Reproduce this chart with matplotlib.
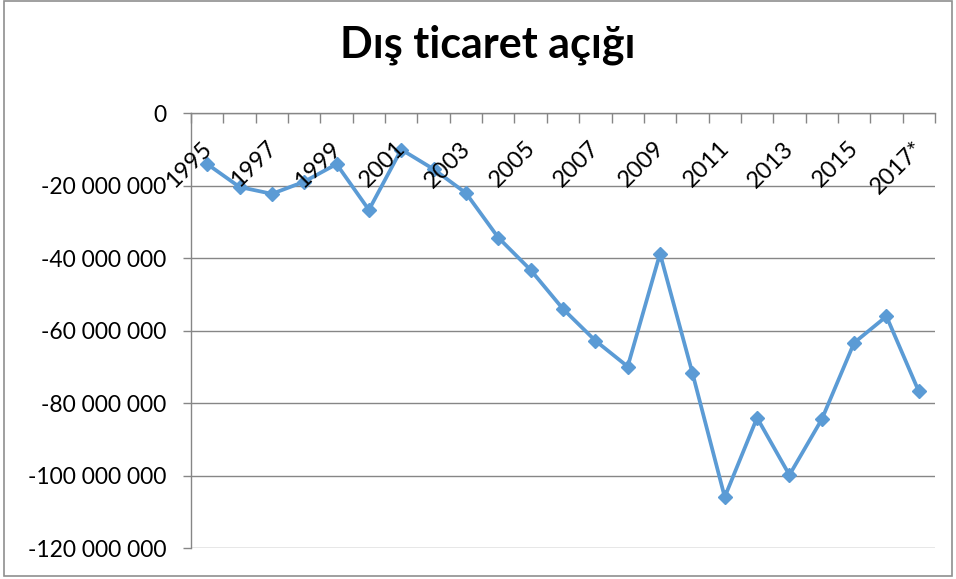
import numpy as np
import matplotlib
matplotlib.use("Agg")
import matplotlib.pyplot as plt
from matplotlib import transforms
from matplotlib.patches import Rectangle
from matplotlib.ticker import FuncFormatter

# trade deficit, 1995 - 2017*
years = ['1995', '1996', '1997', '1998', '1999', '2000', '2001', '2002',
         '2003', '2004', '2005', '2006', '2007', '2008', '2009', '2010',
         '2011', '2012', '2013', '2014', '2015', '2016', '2017*']
deficit = [-14071624, -20402178, -22297649, -18947347, -14084009, -26727914,
           -10064867, -15494708, -22086856, -34372613, -43297743, -54041498,
           -62790965, -69936378, -38785809, -71661113, -105934807, -84066659,
           -99858613, -84508877, -63394728, -56086523, -76795556]
y_ticks = [0, -20000000, -40000000, -60000000, -80000000, -100000000, -120000000]

plt.rcParams['font.family'] = ['Lato', 'DejaVu Sans']
grey = '#868686'
blue = '#5B9BD5'

fig = plt.figure(figsize=(9.56, 5.79), dpi=100)
fig.patches.append(Rectangle((0.004, 0.005), 0.992, 0.993, transform=fig.transFigure,
                             fill=False, edgecolor='#8f8f8f', lw=1.2))

ax = fig.add_axes([0.1998, 0.0535, 0.7782, 0.7513])
x = np.arange(len(years))
ax.plot(x, deficit, color=blue, lw=2.7, marker='D', ms=7.5, zorder=3)

ax.set_xlim(-0.5, len(years) - 0.5)
ax.set_ylim(-120000000, 0)
ax.set_yticks(y_ticks)
ax.yaxis.set_major_formatter(FuncFormatter(lambda v, p: f"{int(v):,}".replace(',', ' ')))
ax.yaxis.grid(True, color=grey, lw=1)
ax.set_axisbelow(True)
ax.tick_params(axis='y', length=6, width=1, color=grey, pad=12, labelsize=16.5, labelcolor='black')

for s in ('right', 'bottom'):
    ax.spines[s].set_visible(False)
for s in ('top', 'left'):
    ax.spines[s].set_color(grey)
    ax.spines[s].set_linewidth(1)

# category boundary ticks on the zero line
ax.xaxis.tick_top()
ax.set_xticks(np.arange(-0.5, len(years), 1))
ax.tick_params(axis='x', direction='in', length=7, width=1, color=grey, labeltop=False)

lab_tr = transforms.offset_copy(ax.transData, fig=fig, x=1, y=-32, units='dots')
for i in range(0, len(years), 2):
    ax.text(x[i], 0, years[i], transform=lab_tr, rotation=45, rotation_mode='anchor',
            ha='right', va='center', fontsize=17, color='black')

fig.text(0.51, 0.9, 'Dış ticaret açığı', ha='center', va='baseline',
         fontsize=31, fontweight='bold', color='black')

fig.savefig('out.png', dpi=100)
